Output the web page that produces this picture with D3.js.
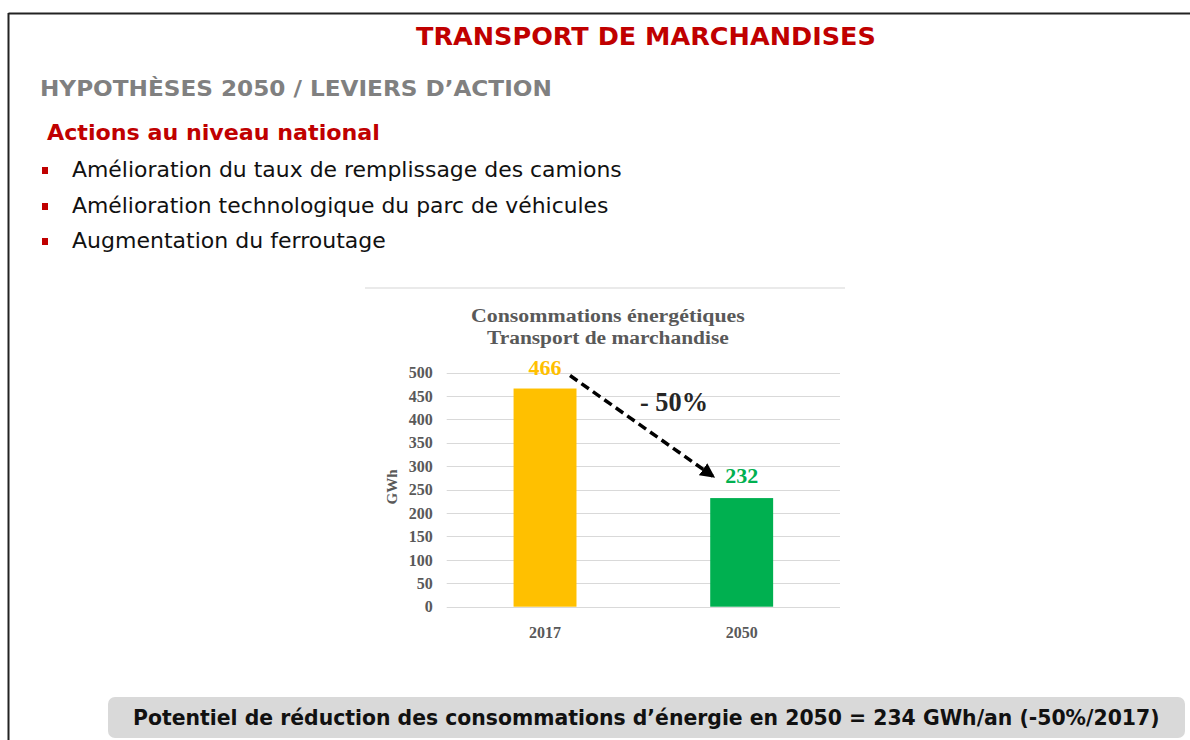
<!DOCTYPE html>
<html>
<head>
<meta charset="utf-8">
<script src="https://cdn.jsdelivr.net/npm/d3@7"></script>
<style>
  html, body { margin: 0; padding: 0; background: #ffffff; }
  svg { display: block; }
</style>
</head>
<body>
<svg id="slide" width="1190" height="740"></svg>
<script>
// Data
const categories = ["2017", "2050"];
const values = [466, 232];
const barColors = ["#FFC000", "#00B050"];
const yTicks = [0, 50, 100, 150, 200, 250, 300, 350, 400, 450, 500];
const bullets = [
  "Amélioration du taux de remplissage des camions",
  "Amélioration technologique du parc de véhicules",
  "Augmentation du ferroutage"
];
const bulletWidths = [550, 537, 314];
const changeLabel = "- 50%";
const summary = "Potentiel de réduction des consommations d’énergie en 2050 = 234 GWh/an (-50%/2017)";

const svg = d3.select("#slide");

// Squeezes a text horizontally so it spans the given width, starting at x0
function fitWidth(sel, x0, baseline, width) {
  sel.attr("x", 0).attr("y", 0);
  const w = sel.node().getComputedTextLength();
  sel.attr("transform", `translate(${x0},${baseline}) scale(${width / w},1)`);
  return sel;
}

// Slide frame
svg.append("line").attr("x1", 8.5).attr("x2", 1190).attr("y1", 13.5).attr("y2", 13.5)
  .attr("stroke", "#222").attr("stroke-width", 2);
svg.append("line").attr("x1", 8.5).attr("x2", 8.5).attr("y1", 13).attr("y2", 740)
  .attr("stroke", "#222").attr("stroke-width", 2);

const sans = "'DejaVu Sans', Verdana, sans-serif";
const serif = "'Liberation Serif', 'DejaVu Serif', serif";

fitWidth(svg.append("text")
  .attr("font-family", sans).attr("font-weight", "bold").attr("font-size", 25)
  .attr("fill", "#C00000").text("TRANSPORT DE MARCHANDISES"), 416, 45, 460);

fitWidth(svg.append("text")
  .attr("font-family", sans).attr("font-weight", "bold").attr("font-size", 22)
  .attr("fill", "#808080").text("HYPOTHÈSES 2050 / LEVIERS D’ACTION"), 40, 96, 512);

fitWidth(svg.append("text")
  .attr("font-family", sans).attr("font-weight", "bold").attr("font-size", 21)
  .attr("fill", "#C00000").text("Actions au niveau national"), 47, 140, 333);

const bulletY = [177, 213, 248];
bullets.forEach((t, i) => {
  svg.append("rect").attr("x", 42).attr("y", bulletY[i] - 10).attr("width", 6).attr("height", 7)
    .attr("fill", "#C00000");
  fitWidth(svg.append("text")
    .attr("font-family", sans).attr("font-size", 21).attr("fill", "#111")
    .text(t), 72, bulletY[i], bulletWidths[i]);
});

// Chart
const chartTop = 288;
svg.append("line").attr("x1", 365).attr("x2", 845).attr("y1", chartTop).attr("y2", chartTop)
  .attr("stroke", "#e3e3e3").attr("stroke-width", 1.5);

fitWidth(svg.append("text")
  .attr("font-family", serif).attr("font-weight", "bold").attr("font-size", 18)
  .attr("fill", "#595959").text("Consommations énergétiques"), 471, 322, 274);
fitWidth(svg.append("text")
  .attr("font-family", serif).attr("font-weight", "bold").attr("font-size", 18)
  .attr("fill", "#595959").text("Transport de marchandise"), 487, 344, 242);

const plot = { left: 446.7, right: 840, top: 372.6, bottom: 606.7 };
const x = d3.scaleBand().domain(categories).range([plot.left, plot.right]).paddingInner(0.68).paddingOuter(0.34);
const y = d3.scaleLinear().domain([0, 500]).range([plot.bottom, plot.top]);

// Gridlines
svg.append("g").selectAll("line").data(yTicks).join("line")
  .attr("x1", plot.left).attr("x2", plot.right)
  .attr("y1", d => Math.round(y(d)) + 0.5).attr("y2", d => Math.round(y(d)) + 0.5)
  .attr("stroke", "#d9d9d9").attr("stroke-width", 1.2);

// Y axis labels
const yAxis = d3.axisLeft(y).tickValues(yTicks).tickSize(0).tickPadding(0);
const yg = svg.append("g").attr("transform", `translate(${plot.left - 14},0)`).call(yAxis);
yg.select(".domain").remove();
yg.selectAll("text").attr("font-family", serif).attr("font-weight", "bold")
  .attr("font-size", 16).attr("fill", "#595959");

svg.append("text")
  .attr("transform", `translate(397,487) rotate(-90)`)
  .attr("text-anchor", "middle")
  .attr("font-family", serif).attr("font-weight", "bold").attr("font-size", 15)
  .attr("fill", "#595959").text("GWh");

// X axis labels
const xAxis = d3.axisBottom(x).tickSize(0).tickPadding(0);
const xg = svg.append("g").attr("transform", `translate(0,${plot.bottom + 20})`).call(xAxis);
xg.select(".domain").remove();
xg.selectAll("text").attr("font-family", serif).attr("font-weight", "bold")
  .attr("font-size", 16).attr("fill", "#595959");

// Bars
svg.append("g").selectAll("rect").data(values).join("rect")
  .attr("x", (d, i) => x(categories[i]))
  .attr("y", d => y(d))
  .attr("width", x.bandwidth())
  .attr("height", d => y(0) - y(d))
  .attr("fill", (d, i) => barColors[i]);

// Value labels
svg.append("g").selectAll("text").data(values).join("text")
  .attr("x", (d, i) => x(categories[i]) + x.bandwidth() / 2)
  .attr("y", (d, i) => i === 0 ? y(d) - 14 : y(d) - 15)
  .attr("text-anchor", "middle")
  .attr("font-family", serif).attr("font-weight", "bold").attr("font-size", 22)
  .attr("fill", (d, i) => barColors[i])
  .text(d => d);

// Dashed arrow between the two values
svg.append("defs").append("marker")
  .attr("id", "head").attr("viewBox", "0 0 10 10").attr("refX", 8).attr("refY", 5)
  .attr("markerWidth", 4.2).attr("markerHeight", 4.2).attr("orient", "auto")
  .append("path").attr("d", "M0,0 L10,5 L0,10 z").attr("fill", "#000");

const c0 = x(categories[0]) + x.bandwidth() / 2;
const c1 = x(categories[1]) + x.bandwidth() / 2;
svg.append("line")
  .attr("x1", c0 + 25).attr("y1", y(values[0]) - 13)
  .attr("x2", c1 - 29).attr("y2", y(values[1]) - 22)
  .attr("stroke", "#000").attr("stroke-width", 3.5)
  .attr("stroke-dasharray", "9,5")
  .attr("marker-end", "url(#head)");

fitWidth(svg.append("text")
  .attr("font-family", serif).attr("font-weight", "bold").attr("font-size", 27).attr("fill", "#262626")
  .text(changeLabel), 640, 411, 68);

// Summary banner
svg.append("rect").attr("x", 108).attr("y", 697).attr("width", 1077).attr("height", 41)
  .attr("rx", 7).attr("fill", "#D9D9D9");
fitWidth(svg.append("text")
  .attr("font-family", sans).attr("font-weight", "bold").attr("font-size", 22)
  .attr("fill", "#111").text(summary), 133, 725, 1027);
</script>
</body>
</html>
